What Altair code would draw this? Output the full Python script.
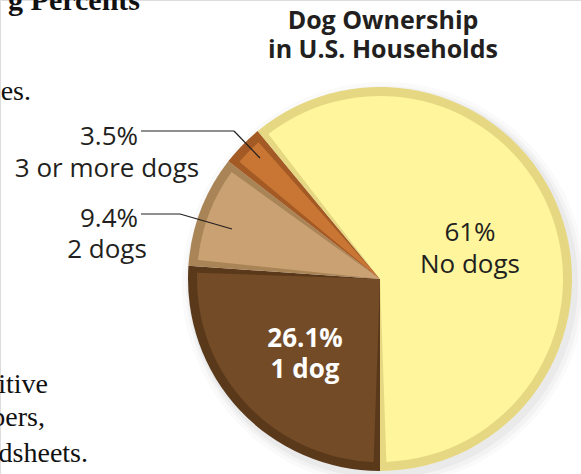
import math
import altair as alt
import pandas as pd

# ---- data ----
categories = ["1 dog", "2 dogs", "3 or more dogs", "No dogs"]
values = [26.1, 9.4, 3.5, 61.0]
pct_labels = ["26.1%", "9.4%", "3.5%", "61%"]
order_idx = [0, 1, 2, 3]
main_colors = ["#744b27", "#caa173", "#c97634", "#fef59d"]
rim_colors = ["#5a391b", "#a98456", "#a35a24", "#e6d883"]

title_lines = ["Dog Ownership", "in U.S. Households"]
page_fragments = ["g Percents", "es.", "itive", "pers,", "dsheets."]

df = pd.DataFrame({"category": categories, "value": values, "ord": order_idx})

CX, CY, R = 380, 279, 192
FONT = "Open Sans"

theta = alt.Theta("value:Q", stack=True,
                  scale=alt.Scale(range=[math.pi, 3 * math.pi]))
order = alt.Order("ord:Q", sort="ascending")


def pie(colors, radius, pad=0.0):
    return alt.Chart(df).mark_arc(radius=radius, padAngle=pad).encode(
        theta=theta,
        order=order,
        color=alt.Color("category:N", legend=None,
                        scale=alt.Scale(domain=categories, range=colors)),
        x=alt.value(CX), y=alt.value(CY),
    )


one = alt.Data(values=[{"k": 1}])


def shadow(r, op, dx, dy):
    return alt.Chart(one).mark_arc(theta=0, theta2=2 * math.pi, radius=r,
                                   color="#9a9a9a", opacity=op).encode(
        x=alt.value(CX + dx), y=alt.value(CY + dy))


def txt(s, x, y, size=26, weight="normal", color="#231f20", align="center",
        font=FONT):
    return alt.Chart(one).mark_text(text=s, fontSize=size, fontWeight=weight,
                                    color=color, align=align, baseline="alphabetic",
                                    font=font).encode(
        x=alt.value(x), y=alt.value(y))


def seg(x1, y1, x2, y2):
    return alt.Chart(one).mark_rule(color="#231f20", strokeWidth=1.2).encode(
        x=alt.value(x1), y=alt.value(y1), x2=alt.value(x2), y2=alt.value(y2))


pie_layers = alt.layer(
    pie(rim_colors, R),
    pie(main_colors, R - 9, pad=0.07),
).resolve_scale(color="independent")

layers = [
    shadow(R + 10, 0.05, 4, 5),
    shadow(R + 6, 0.07, 4, 5),
    shadow(R + 3, 0.10, 3, 4),
    pie_layers,
    # title
    txt(title_lines[0], 383, 29, size=25, weight="bold"),
    txt(title_lines[1], 383, 58, size=25, weight="bold"),
    # labels
    txt(pct_labels[3], 470, 241),
    txt(categories[3], 470, 273),
    txt(pct_labels[0], 305, 347, size=26, weight="bold", color="white"),
    txt(categories[0], 305, 378, size=26, weight="bold", color="white"),
    txt(pct_labels[2], 138, 145, align="right"),
    txt(categories[2], 107, 177),
    txt(pct_labels[1], 138, 227, align="right"),
    txt(categories[1], 107, 258),
    seg(141, 131, 234, 131),
    seg(234, 131, 260, 158),
    seg(141, 214, 180, 214),
    seg(180, 214, 232, 229),
    # page text fragments (cropped textbook page)
    txt(page_fragments[0], 140, 10, size=30, weight="bold", align="right",
        font="Liberation Serif", color="#111111"),
    txt(page_fragments[1], 31, 100, size=28, align="right",
        font="Liberation Serif", color="#111111"),
    txt(page_fragments[2], 48, 393, size=28, align="right",
        font="Liberation Serif", color="#111111"),
    txt(page_fragments[3], 45, 426, size=28, align="right",
        font="Liberation Serif", color="#111111"),
    txt(page_fragments[4], 88, 462, size=28, align="right",
        font="Liberation Serif", color="#111111"),
]

chart = alt.layer(*layers).resolve_scale(color="independent").properties(
    width=581, height=474,
    autosize=alt.AutoSizeParams(type="none"),
    padding=0,
).configure_view(stroke="transparent", strokeWidth=0).configure(background="white")

chart.save("out.html", embed_options={"renderer": "svg", "actions": False})
